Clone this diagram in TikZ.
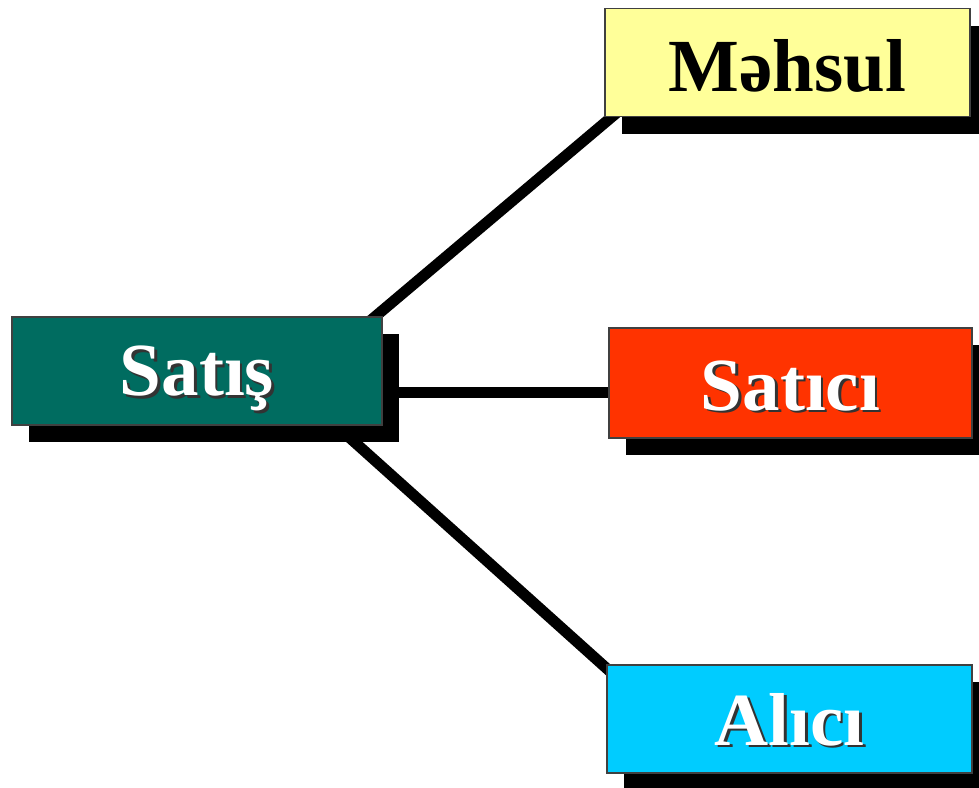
\documentclass[tikz,border=0pt]{standalone}
\usepackage{fontspec}
\setmainfont{Liberation Serif}
\usetikzlibrary{calc,shadows,backgrounds}
\definecolor{tealbox}{RGB}{0,108,96}
\definecolor{yellowbox}{RGB}{255,255,153}
\definecolor{redbox}{RGB}{255,51,0}
\definecolor{cyanbox}{RGB}{0,204,255}
\newcommand\shtxt[1]{\rlap{\hspace{2.5pt}\raisebox{-2.5pt}{\textcolor{black!80}{#1}}}#1}
\newcommand\lowr[2]{\raisebox{-#1}[\height][\depth]{#2}}
\tikzset{
  box/.style={draw=black!75, line width=1.5pt, inner sep=0pt,
    minimum width=365pt, minimum height=108pt,
    font=\fontsize{75}{80}\selectfont\bfseries,
    drop shadow={shadow xshift=17pt, shadow yshift=-17pt, fill=black, opacity=1}},
  link/.style={line width=11pt, black}
}
\begin{document}
\begin{tikzpicture}[x=1pt,y=-1pt]
\useasboundingbox (0,0) rectangle (979,787);
\node[box, fill=tealbox, text=white, minimum width=370pt] (S) at (197,371) {\lowr{9pt}{\shtxt{Satış}}};
\node[box, fill=yellowbox, text=black] (M) at (787.5,62.5) {\lowr{3pt}{Məhsul}};
\node[box, fill=redbox, text=white, minimum width=363pt, minimum height=110pt] (T) at (790.5,383) {\lowr{4pt}{\shtxt{Satıcı}}};
\node[box, fill=cyanbox, text=white] (A) at (789.5,719) {\lowr{2pt}{\shtxt{Alıcı}}};
\begin{scope}[on background layer]
\draw[link] ($(S.north east)+(-19,10)$) -- ($(M.south west)+(19,-10)$);
\draw[link] ($(S.east)+(-12,21)$) -- ($(T.west)+(11,9)$);
\draw[link] ($(S.south east)+(-52,-5)$) -- ($(A.north west)+(8,11)$);
\end{scope}
\end{tikzpicture}
\end{document}
